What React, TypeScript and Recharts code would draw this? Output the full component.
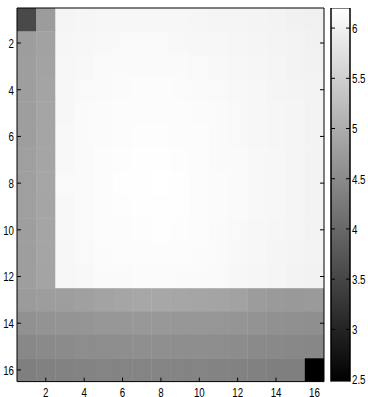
import { ScatterChart, Scatter, XAxis, YAxis, ComposedChart, Bar } from "recharts";

// grid columns / rows (1..16) and tick positions
const COLUMNS = [1, 2, 3, 4, 5, 6, 7, 8, 9, 10, 11, 12, 13, 14, 15, 16];
const ROWS = [1, 2, 3, 4, 5, 6, 7, 8, 9, 10, 11, 12, 13, 14, 15, 16];
const AXIS_TICKS = [2, 4, 6, 8, 10, 12, 14, 16];
const COLORBAR_TICKS = [2.5, 3, 3.5, 4, 4.5, 5, 5.5, 6];
const C_MIN = 2.48;
const C_MAX = 6.2;

// cell values, one array per row (top to bottom)
const ROW_01 = [3.55, 4.75, 6.06, 6.07, 6.08, 6.09, 6.09, 6.09, 6.08, 6.07, 6.06, 6.05, 6.04, 6.02, 6.0, 5.98];
const ROW_02 = [4.77, 4.84, 6.07, 6.09, 6.1, 6.11, 6.11, 6.11, 6.1, 6.09, 6.08, 6.07, 6.05, 6.04, 6.02, 6.0];
const ROW_03 = [4.78, 4.86, 6.08, 6.1, 6.12, 6.13, 6.13, 6.13, 6.12, 6.11, 6.1, 6.08, 6.07, 6.05, 6.03, 6.01];
const ROW_04 = [4.78, 4.87, 6.09, 6.11, 6.13, 6.14, 6.15, 6.15, 6.14, 6.13, 6.11, 6.1, 6.08, 6.06, 6.04, 6.02];
const ROW_05 = [4.79, 4.88, 6.09, 6.12, 6.14, 6.15, 6.16, 6.16, 6.15, 6.14, 6.12, 6.11, 6.09, 6.07, 6.05, 6.02];
const ROW_06 = [4.79, 4.89, 6.1, 6.12, 6.14, 6.16, 6.17, 6.17, 6.16, 6.15, 6.13, 6.11, 6.09, 6.07, 6.05, 6.03];
const ROW_07 = [4.8, 4.89, 6.1, 6.13, 6.15, 6.17, 6.18, 6.18, 6.17, 6.15, 6.13, 6.12, 6.1, 6.08, 6.05, 6.03];
const ROW_08 = [4.8, 4.9, 6.11, 6.13, 6.16, 6.18, 6.19, 6.2, 6.18, 6.16, 6.14, 6.12, 6.1, 6.08, 6.06, 6.03];
const ROW_09 = [4.8, 4.89, 6.1, 6.13, 6.15, 6.17, 6.19, 6.19, 6.18, 6.16, 6.14, 6.12, 6.1, 6.08, 6.05, 6.03];
const ROW_10 = [4.79, 4.89, 6.1, 6.12, 6.15, 6.16, 6.17, 6.18, 6.17, 6.15, 6.13, 6.11, 6.09, 6.07, 6.05, 6.02];
const ROW_11 = [4.79, 4.88, 6.09, 6.11, 6.14, 6.15, 6.16, 6.16, 6.15, 6.14, 6.12, 6.1, 6.08, 6.06, 6.04, 6.02];
const ROW_12 = [4.78, 4.87, 6.08, 6.1, 6.12, 6.13, 6.14, 6.14, 6.13, 6.12, 6.11, 6.09, 6.07, 6.05, 6.03, 6.01];
const ROW_13 = [4.74, 4.77, 4.79, 4.82, 4.86, 4.89, 4.91, 4.91, 4.9, 4.89, 4.87, 4.84, 4.76, 4.73, 4.71, 4.72];
const ROW_14 = [4.6, 4.62, 4.64, 4.66, 4.68, 4.69, 4.7, 4.7, 4.69, 4.68, 4.67, 4.65, 4.62, 4.6, 4.58, 4.57];
const ROW_15 = [4.47, 4.49, 4.51, 4.53, 4.54, 4.55, 4.56, 4.56, 4.55, 4.55, 4.54, 4.52, 4.5, 4.48, 4.46, 4.45];
const ROW_16 = [4.34, 4.36, 4.38, 4.39, 4.4, 4.41, 4.41, 4.41, 4.41, 4.4, 4.39, 4.38, 4.36, 4.34, 4.33, 2.48];

const HEAT_ROWS = [ROW_01, ROW_02, ROW_03, ROW_04, ROW_05, ROW_06, ROW_07, ROW_08,
  ROW_09, ROW_10, ROW_11, ROW_12, ROW_13, ROW_14, ROW_15, ROW_16];

const cells = HEAT_ROWS.flatMap((row, ri) =>
  row.map((v, ci) => ({ x: COLUMNS[ci], y: ROWS[ri], v }))
);

const colorbarData = [{ name: "cb", range: [C_MIN, C_MAX] }];

// layout
const W = 330;
const H = 397;
const M = { top: 7, right: 5, bottom: 0, left: 0 };
const Y_W = 17;
const X_H = 15.4;
const PLOT_W = W - M.left - M.right - Y_W - 1;
const PLOT_H = H - M.top - M.bottom - X_H - 1;
const CELL_W = PLOT_W / COLUMNS.length;
const CELL_H = PLOT_H / ROWS.length;

const FONT = "'Liberation Sans', Arial, sans-serif";

const grayOf = (v: number) => {
  const t = Math.max(0, Math.min(1, (v - C_MIN) / (C_MAX - C_MIN)));
  const g = Math.round(t * 255);
  return `rgb(${g},${g},${g})`;
};

const CellShape = (props: any) => {
  const { cx, cy, payload } = props;
  return (
    <rect
      x={cx - CELL_W / 2}
      y={cy - CELL_H / 2}
      width={CELL_W + 0.4}
      height={CELL_H + 0.4}
      fill={grayOf(payload.v)}
    />
  );
};

// condensed tick labels, like the narrow matlab font
const NarrowTick = (props: any) => {
  const { x, y, payload, textAnchor, orientation } = props;
  const dy = orientation === "bottom" ? "0.71em" : "0.355em";
  return (
    <g transform={`translate(${x},${y}) scale(0.72,1)`}>
      <text x={0} y={0} dy={dy} textAnchor={textAnchor} fontSize={13.5} fontFamily={FONT} fill="#000">
        {payload.value}
      </text>
    </g>
  );
};

const NoShape = () => <g />;
const blank = () => "";

// same axes in both layers, so geometry matches; only the top layer shows them
const Axes = (show: boolean) => {
  const line = show ? { stroke: "#000" } : false;
  return [
    <XAxis
      key="b" xAxisId="b" type="number" dataKey="x" orientation="bottom" height={X_H}
      domain={[0.5, 16.5]} ticks={AXIS_TICKS} allowDataOverflow
      tickSize={-4} tickMargin={10} tick={show ? <NarrowTick orientation="bottom" /> : false}
      axisLine={line} tickLine={line}
    />,
    <XAxis
      key="t" xAxisId="t" type="number" orientation="top" height={1}
      domain={[0.5, 16.5]} ticks={AXIS_TICKS} allowDataOverflow
      tickSize={-4} tickFormatter={blank}
      axisLine={line} tickLine={line}
    />,
    <YAxis
      key="l" yAxisId="l" type="number" dataKey="y" orientation="left" width={Y_W}
      domain={[0.5, 16.5]} ticks={AXIS_TICKS} reversed allowDataOverflow
      tickSize={-4} tickMargin={7} tick={show ? <NarrowTick orientation="left" /> : false}
      axisLine={line} tickLine={line}
    />,
    <YAxis
      key="r" yAxisId="r" type="number" orientation="right" width={1}
      domain={[0.5, 16.5]} ticks={AXIS_TICKS} reversed allowDataOverflow
      tickSize={-4} tickFormatter={blank}
      axisLine={line} tickLine={line}
    />,
  ];
};

export default function App() {
  return (
    <div style={{ position: "absolute", left: 0, top: 0, width: 368, height: 397, background: "#fff", overflow: "hidden" }}>
      <div style={{ position: "absolute", left: 0, top: 0 }}>
        <ScatterChart width={W} height={H} margin={M}>
          {Axes(false)}
          <Scatter
            data={cells} xAxisId="b" yAxisId="l"
            shape={CellShape} isAnimationActive={false}
          />
        </ScatterChart>
      </div>
      <div style={{ position: "absolute", left: 0, top: 0 }}>
        <ScatterChart width={W} height={H} margin={M}>
          {Axes(true)}
          <Scatter
            data={cells} xAxisId="b" yAxisId="l"
            shape={NoShape} isAnimationActive={false}
          />
        </ScatterChart>
      </div>
      <div style={{ position: "absolute", left: 300, top: 0 }}>
        <ComposedChart
          width={68} height={H} data={colorbarData}
          margin={{ top: 8, right: 0, bottom: 15.4, left: 30 }}
          barCategoryGap={0}
        >
          <defs>
            <linearGradient id="cbg" x1="0" y1="1" x2="0" y2="0">
              <stop offset="0" stopColor="#000" />
              <stop offset="1" stopColor="#fff" />
            </linearGradient>
          </defs>
          <XAxis dataKey="name" hide />
          <YAxis
            yAxisId="l" type="number" orientation="left" width={1}
            domain={[C_MIN, C_MAX]} ticks={COLORBAR_TICKS} allowDataOverflow
            tickSize={-4} tickFormatter={blank}
            axisLine={{ stroke: "#000" }} tickLine={{ stroke: "#000" }}
          />
          <YAxis
            yAxisId="r" type="number" orientation="right" width={18}
            domain={[C_MIN, C_MAX]} ticks={COLORBAR_TICKS} allowDataOverflow
            tickSize={-4} tickMargin={6} tick={<NarrowTick orientation="right" />}
            axisLine={{ stroke: "#000" }} tickLine={{ stroke: "#000" }}
          />
          <Bar
            dataKey="range" yAxisId="r" fill="url(#cbg)" stroke="#000" strokeWidth={1}
            isAnimationActive={false}
          />
        </ComposedChart>
      </div>
    </div>
  );
}
